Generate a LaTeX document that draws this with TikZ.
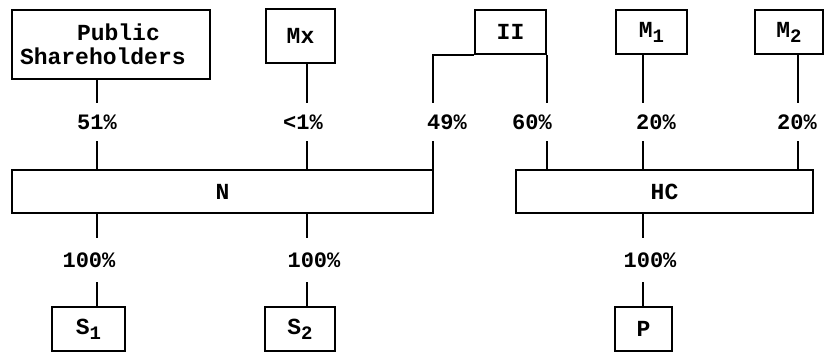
\documentclass[tikz,border=0pt]{standalone}
\usepackage{fontspec}
\setmainfont{Liberation Mono}
\newcommand\lowsub[1]{\raisebox{-5pt}{\fontsize{19}{19}\selectfont #1}}
\begin{document}
\begin{tikzpicture}[x=1pt,y=-1pt,
  box/.style={draw, line width=1.8pt, inner sep=0pt, font=\fontsize{23}{24}\selectfont\bfseries},
  pct/.style={inner sep=0pt, font=\fontsize{22}{24}\selectfont\bfseries},
  conn/.style={line width=1.8pt}]
\useasboundingbox (0,0) rectangle (825,353);
% boxes
\node[box, inner xsep=8pt, text width=182pt, minimum height=69pt, align=left] (PS) at (111,44.5) {\hspace*{57pt}Public\\Shareholders};
\node[box, minimum width=69pt, minimum height=54pt] (Mx) at (300.5,36) {Mx};
\node[box, minimum width=71pt, minimum height=44pt] (II) at (510.5,32) {II\hspace{8pt}};
\node[box, minimum width=71pt, minimum height=44pt] (M1) at (651.5,32) {M\lowsub{1}};
\node[box, minimum width=68pt, minimum height=44pt] (M2) at (789,32) {M\lowsub{2}\hspace{12pt}};
\node[box, minimum width=421pt, minimum height=43pt] (N) at (222.5,191.5) {N};
\node[box, minimum width=297pt, minimum height=43pt] (HC) at (664.5,191.5) {HC\hspace{31pt}};
\node[box, minimum width=73pt, minimum height=44pt] (S1) at (88.5,329) {S\lowsub{1}};
\node[box, minimum width=70pt, minimum height=44pt] (S2) at (300,329) {S\lowsub{2}};
\node[box, minimum width=57pt, minimum height=44pt] (P) at (643.5,329) {P};
% percentage labels
\node[pct, minimum height=38pt] (l51) at (97,122) {51\%};
\node[pct, minimum height=38pt] (lmx) at (303,122) {<1\%};
\node[pct, minimum height=38pt] (l49) at (447,122) {49\%};
\node[pct, minimum height=38pt] (l60) at (532,122) {60\%};
\node[pct, minimum height=38pt] (l20a) at (656,122) {20\%};
\node[pct, minimum height=38pt] (l20b) at (797,122) {20\%};
\node[pct, minimum height=44pt] (l100a) at (89,260) {100\%};
\node[pct, minimum height=44pt] (l100b) at (314,260) {100\%};
\node[pct, minimum height=44pt] (l100c) at (650,260) {100\%};
% line positions
\coordinate (xa) at (97,0);
\coordinate (xb) at (307,0);
\coordinate (xc) at (433,0);
\coordinate (xe) at (643,0);
\coordinate (xf) at (798,0);
% connectors into N
\draw[conn] (xa |- PS.south) -- (xa |- l51.north);
\draw[conn] (xa |- l51.south) -- (xa |- N.north);
\draw[conn] (xb |- Mx.south) -- (xb |- lmx.north);
\draw[conn] (xb |- lmx.south) -- (xb |- N.north);
\draw[conn] (II.south west) -- (xc |- II.south) -- (xc |- l49.north);
\draw[conn] (xc |- l49.south) -- (xc |- N.north);
% connectors into HC
\draw[conn] (II.south east) -- (II.south east |- l60.north);
\draw[conn] (II.south east |- l60.south) -- (II.south east |- HC.north);
\draw[conn] (xe |- M1.south) -- (xe |- l20a.north);
\draw[conn] (xe |- l20a.south) -- (xe |- HC.north);
\draw[conn] (xf |- M2.south) -- (xf |- l20b.north);
\draw[conn] (xf |- l20b.south) -- (xf |- HC.north);
% subsidiaries
\draw[conn] (xa |- N.south) -- (xa |- l100a.north);
\draw[conn] (xa |- l100a.south) -- (xa |- S1.north);
\draw[conn] (xb |- N.south) -- (xb |- l100b.north);
\draw[conn] (xb |- l100b.south) -- (xb |- S2.north);
\draw[conn] (xe |- HC.south) -- (xe |- l100c.north);
\draw[conn] (xe |- l100c.south) -- (xe |- P.north);
\end{tikzpicture}
\end{document}
